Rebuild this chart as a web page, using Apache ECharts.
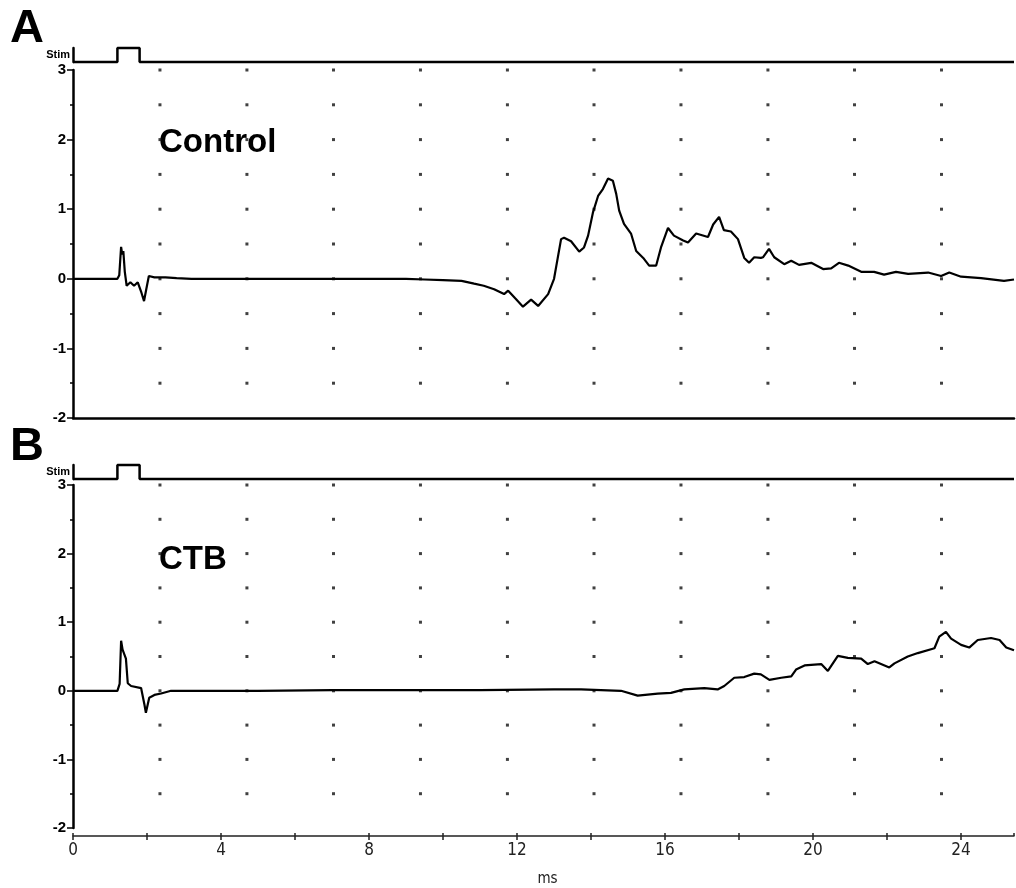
<!DOCTYPE html>
<html>
<head>
<meta charset="utf-8">
<script src="https://cdn.jsdelivr.net/npm/echarts@6/dist/echarts.min.js"></script>
<style>
html,body{margin:0;padding:0;background:#fff;}
#chart{width:1016px;height:888px;}
</style>
</head>
<body>
<div id="chart"></div>
<script>
// ---- data (time in ms, response in arbitrary units) ----
var X_MAX = 25.43;
var yTicks = [-2, -1, 0, 1, 2, 3];
var xTickLabels = [0, 4, 8, 12, 16, 20, 24];

var stimT = [0, 1.2, 1.2, 1.8, 1.8, 25.43];
var stimV = [0, 0, 1, 1, 0, 0];

var ctrlT = [0, 1.2, 1.25, 1.3, 1.33, 1.36, 1.4, 1.45, 1.55, 1.65, 1.75, 1.85, 1.92, 1.98, 2.05, 2.2, 2.5, 2.8, 3.2, 4.0, 5.0, 6.0, 7.0, 8.0, 9.0, 9.5, 10.0, 10.5, 10.84, 11.1, 11.38, 11.65, 11.76, 11.95, 12.16, 12.38, 12.57, 12.84, 13.0, 13.1, 13.19, 13.27, 13.46, 13.68, 13.81, 13.92, 14.05, 14.19, 14.32, 14.46, 14.59, 14.68, 14.76, 14.89, 15.08, 15.22, 15.41, 15.57, 15.76, 15.89, 16.08, 16.24, 16.49, 16.62, 16.84, 17.16, 17.3, 17.46, 17.59, 17.78, 17.97, 18.14, 18.27, 18.41, 18.59, 18.65, 18.81, 18.95, 19.22, 19.41, 19.62, 19.95, 20.27, 20.49, 20.7, 20.95, 21.3, 21.65, 21.92, 22.24, 22.57, 23.11, 23.46, 23.68, 24.0, 24.54, 25.16, 25.43];
var ctrlV = [0, 0, 0.05, 0.46, 0.35, 0.40, 0.10, -0.10, -0.05, -0.10, -0.05, -0.20, -0.32, -0.15, 0.04, 0.02, 0.02, 0.01, 0, 0, 0, 0, 0, 0, 0, -0.01, -0.02, -0.03, -0.07, -0.10, -0.15, -0.22, -0.17, -0.28, -0.40, -0.30, -0.39, -0.22, 0.0, 0.30, 0.57, 0.59, 0.54, 0.39, 0.45, 0.62, 0.95, 1.19, 1.29, 1.44, 1.41, 1.22, 0.98, 0.79, 0.65, 0.40, 0.30, 0.19, 0.19, 0.45, 0.73, 0.62, 0.55, 0.52, 0.65, 0.60, 0.78, 0.89, 0.70, 0.68, 0.57, 0.30, 0.23, 0.31, 0.30, 0.31, 0.43, 0.31, 0.21, 0.26, 0.20, 0.23, 0.14, 0.15, 0.23, 0.19, 0.10, 0.10, 0.06, 0.10, 0.07, 0.09, 0.04, 0.09, 0.03, 0.01, -0.03, -0.01];

var ctbT = [0, 1.2, 1.26, 1.30, 1.34, 1.39, 1.43, 1.48, 1.57, 1.84, 1.93, 1.97, 2.06, 2.2, 2.38, 2.65, 3.5, 5, 7, 9, 11, 13, 13.73, 14.81, 15.26, 15.8, 16.16, 16.52, 17.06, 17.42, 17.6, 17.87, 18.14, 18.41, 18.59, 18.82, 19.14, 19.41, 19.54, 19.77, 20.22, 20.4, 20.67, 20.94, 21.3, 21.48, 21.66, 22.06, 22.2, 22.56, 22.83, 23.28, 23.41, 23.59, 23.73, 24.0, 24.22, 24.45, 24.81, 25.04, 25.22, 25.43];
var ctbV = [0, 0, 0.1, 0.73, 0.6, 0.62, 0.47, 0.11, 0.07, 0.04, -0.2, -0.32, -0.1, -0.06, -0.04, 0, 0, 0, 0.01, 0.01, 0.01, 0.02, 0.02, 0.0, -0.07, -0.04, -0.03, 0.02, 0.04, 0.02, 0.07, 0.19, 0.2, 0.25, 0.24, 0.16, 0.19, 0.21, 0.31, 0.37, 0.39, 0.29, 0.51, 0.48, 0.47, 0.39, 0.43, 0.34, 0.40, 0.50, 0.55, 0.62, 0.79, 0.86, 0.76, 0.67, 0.63, 0.74, 0.77, 0.74, 0.63, 0.59];

// oscilloscope screen dot grid (ms, units)
var dotCols = [2.35, 4.7, 7.04, 9.39, 11.74, 14.08, 16.43, 18.78, 21.12, 23.47];
var dotRows = [-1.5, -1, -0.5, 0, 0.5, 1, 1.5, 2, 2.5, 3];

// ---- build ----
function pairs(t, v) {
  var n = Math.min(t.length, v.length), out = [];
  for (var i = 0; i < n; i++) out.push([t[i], v[i]]);
  return out;
}
var dots = [];
dotCols.forEach(function (c) { dotRows.forEach(function (r) { dots.push([c, r]); }); });

var LEFT = 73, RIGHT = 2;
var boldFont = "'Liberation Sans', Arial, Helvetica, sans-serif";
var narrowFont = "'Liberation Sans Narrow', 'DejaVu Sans Condensed', 'Arial Narrow', sans-serif";

function stimY(gi) {
  return {
    gridIndex: gi, type: 'value', min: 0, max: 1,
    axisLine: { show: true, lineStyle: { color: '#000', width: 2.5 } },
    axisTick: { show: false }, axisLabel: { show: false }, splitLine: { show: false },
    name: 'Stim', nameLocation: 'middle', nameRotate: 0, nameGap: 3,
    nameTextStyle: { fontFamily: boldFont, fontWeight: 'bold', fontSize: 11, color: '#000', align: 'right', verticalAlign: 'middle', padding: [4, 0, 0, 0] }
  };
}
function mainY(gi) {
  return {
    gridIndex: gi, type: 'value', min: -2, max: 3, interval: 1,
    axisLine: { show: true, onZero: false, lineStyle: { color: '#000', width: 2.5 } },
    axisTick: { show: true, length: 6, lineStyle: { color: '#000', width: 1.5 } },
    minorTick: { show: true, splitNumber: 2, length: 3, lineStyle: { color: '#000', width: 1.5 } },
    axisLabel: { margin: 7, fontFamily: boldFont, fontWeight: 'bold', fontSize: 15, color: '#000' },
    splitLine: { show: false }
  };
}
function hiddenX(gi) {
  return { gridIndex: gi, type: 'value', min: 0, max: X_MAX, show: false };
}

var option = {
  animation: false,
  backgroundColor: '#fff',
  grid: [
    { left: LEFT, right: RIGHT, top: 48, height: 14 },
    { left: LEFT, right: RIGHT, top: 70, height: 348 },
    { left: LEFT, right: RIGHT, top: 465, height: 14 },
    { left: LEFT, right: RIGHT, top: 485, height: 348 }
  ],
  xAxis: [
    hiddenX(0),
    {
      gridIndex: 1, type: 'value', position: 'bottom', min: 0, max: X_MAX,
      axisLine: { show: true, onZero: false, lineStyle: { color: '#000', width: 2.5 } },
      axisTick: { show: false }, axisLabel: { show: false }, splitLine: { show: false }
    },
    hiddenX(2),
    {
      gridIndex: 3, type: 'value', position: 'bottom', min: 0, max: X_MAX, interval: 2, offset: 8,
      axisLine: { show: true, onZero: false, lineStyle: { color: '#222', width: 1.5 } },
      axisTick: { show: true, length: 4, lineStyle: { color: '#222', width: 1.5 } },
      axisLabel: {
        margin: 6, fontFamily: narrowFont, fontSize: 17, color: '#222', showMaxLabel: false,
        formatter: function (v) { return xTickLabels.indexOf(v) >= 0 ? String(v) : ''; }
      },
      splitLine: { show: false },
      name: 'ms', nameLocation: 'middle', nameGap: 36,
      nameTextStyle: { fontFamily: narrowFont, fontSize: 15, color: '#222', padding: [0, 0, 0, 8] }
    },
    {
      gridIndex: 3, type: 'value', position: 'bottom', min: 0, max: X_MAX, interval: 2, offset: 8,
      axisLine: { show: false, onZero: false },
      axisTick: { show: true, inside: true, length: 3, lineStyle: { color: '#222', width: 1.5 } },
      axisLabel: { show: false }, splitLine: { show: false }
    }
  ],
  yAxis: [stimY(0), mainY(1), stimY(2), mainY(3)],
  graphic: [
    { type: 'text', style: { text: 'A', x: 10, y: 29, fill: '#000', font: 'bold 47px ' + boldFont, verticalAlign: 'middle', align: 'left' } },
    { type: 'text', style: { text: 'Control', x: 159, y: 143, fill: '#000', font: 'bold 33px ' + boldFont, verticalAlign: 'middle', align: 'left' } },
    { type: 'text', style: { text: 'B', x: 10, y: 447, fill: '#000', font: 'bold 47px ' + boldFont, verticalAlign: 'middle', align: 'left' } },
    { type: 'text', style: { text: 'CTB', x: 159, y: 560, fill: '#000', font: 'bold 33px ' + boldFont, verticalAlign: 'middle', align: 'left' } }
  ],
  series: [
    { name: 'gridA', type: 'scatter', xAxisIndex: 1, yAxisIndex: 1, data: dots, symbol: 'rect', symbolSize: 3, itemStyle: { color: '#111' }, silent: true, z: 1 },
    { name: 'gridB', type: 'scatter', xAxisIndex: 3, yAxisIndex: 3, data: dots, symbol: 'rect', symbolSize: 3, itemStyle: { color: '#111' }, silent: true, z: 1 },
    { name: 'StimA', type: 'line', xAxisIndex: 0, yAxisIndex: 0, data: pairs(stimT, stimV), showSymbol: false, clip: false, lineStyle: { color: '#000', width: 2.5 } },
    { name: 'StimB', type: 'line', xAxisIndex: 2, yAxisIndex: 2, data: pairs(stimT, stimV), showSymbol: false, clip: false, lineStyle: { color: '#000', width: 2.5 } },
    { name: 'Control', type: 'line', xAxisIndex: 1, yAxisIndex: 1, data: pairs(ctrlT, ctrlV), showSymbol: false, lineStyle: { color: '#000', width: 2.2 }, z: 3 },
    { name: 'CTB', type: 'line', xAxisIndex: 3, yAxisIndex: 3, data: pairs(ctbT, ctbV), showSymbol: false, lineStyle: { color: '#000', width: 2.2 }, z: 3 }
  ]
};

var chart = echarts.init(document.getElementById('chart'), null, { renderer: 'canvas' });
chart.setOption(option);
</script>
</body>
</html>
